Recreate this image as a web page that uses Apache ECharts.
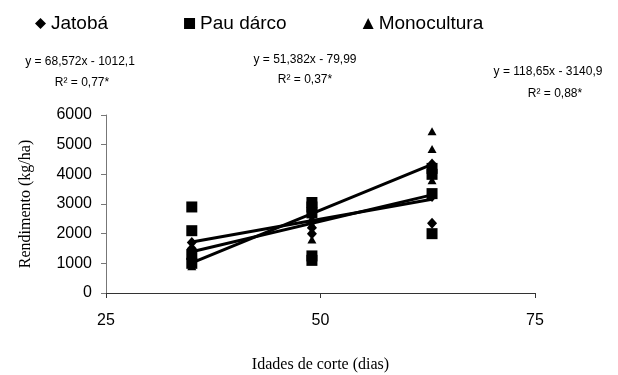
<!DOCTYPE html>
<html>
<head>
<meta charset="utf-8">
<script src="https://cdn.jsdelivr.net/npm/echarts@6/dist/echarts.min.js"></script>
<style>html,body{margin:0;padding:0;background:#fff}#c{width:618px;height:375px}</style>
</head>
<body>
<div id="c"></div>
<script>
// Series names
var seriesNames = ['Jatobá', 'Pau dárco', 'Monocultura'];
// Cutting ages (x) and yields (y)
var jatobaX = [35, 35, 35, 35, 49, 49, 49, 49, 63, 63, 63, 63];
var jatobaY = [1700, 1500, 1300, 1200, 2600, 2400, 2200, 2000, 4350, 3300, 3250, 2350];
var pauX = [35, 35, 35, 35, 49, 49, 49, 49, 49, 63, 63, 63, 63];
var pauY = [2900, 2100, 1300, 1000, 3050, 2900, 2700, 1250, 1100, 4200, 4000, 3350, 2000];
var monoX = [35, 35, 35, 49, 49, 49, 63, 63, 63, 63];
var monoY = [1100, 1000, 900, 2500, 2300, 1800, 5450, 4850, 4300, 3800];
// Regression equations printed on the chart
var slopes = [68.572, 51.382, 118.65];
var intercepts = [-1012.1, -79.99, -3140.9];
var trendRange = [35, 63];
var equations = ['y = 68,572x - 1012,1', 'y = 51,382x - 79,99', 'y = 118,65x - 3140,9'];
var r2Labels = ['R² = 0,77*', 'R² = 0,37*', 'R² = 0,88*'];
// Axis ticks
var xTicks = [25, 50, 75];
var yTicks = [0, 1000, 2000, 3000, 4000, 5000, 6000];

function pairs(xs, ys) { return xs.map(function (x, i) { return [x, ys[i]]; }); }
function trend(k) {
  return trendRange.map(function (x) { return [x, slopes[k] * x + intercepts[k]]; });
}

var symbols = ['diamond', 'rect', 'triangle'];
var symSizes = [[10, 11], [11, 11], [9, 8]];
var pts = [pairs(jatobaX, jatobaY), pairs(pauX, pauY), pairs(monoX, monoY)];

var series = [];
for (var k = 0; k < 3; k++) {
  series.push({
    name: seriesNames[k], type: 'scatter', data: pts[k], symbol: symbols[k],
    symbolSize: symSizes[k], itemStyle: { color: '#000', opacity: 1 }, z: 3
  });
}
for (var k = 0; k < 3; k++) {
  series.push({
    name: 'trend' + k, type: 'line', data: trend(k), showSymbol: false, symbol: 'none',
    lineStyle: { color: '#000', width: 3 }, z: 4, silent: true
  });
}

var eqPos = [[80, 62, 82, 83], [305, 60, 305, 80], [548, 72, 555, 94]];
var graphics = [];
for (var k = 0; k < 3; k++) {
  graphics.push({ type: 'text', x: eqPos[k][0], y: eqPos[k][1], style: { text: equations[k], font: '12px "Liberation Sans", Arial', fill: '#000', align: 'center', verticalAlign: 'middle' } });
  graphics.push({ type: 'text', x: eqPos[k][2], y: eqPos[k][3], style: { text: r2Labels[k], font: '12px "Liberation Sans", Arial', fill: '#000', align: 'center', verticalAlign: 'middle' } });
}

var chart = echarts.init(document.getElementById('c'), null, { renderer: 'canvas' });
chart.setOption({
  animation: false,
  backgroundColor: '#fff',
  legend: {
    data: seriesNames.map(function (n, i) { return { name: n, icon: ['diamond', 'rect', 'triangle'][i], itemStyle: { color: '#000', opacity: 1 } }; }),
    left: 30, top: 9, itemWidth: 11, itemHeight: 11, itemGap: 76,
    textStyle: { fontSize: 19, color: '#000', fontFamily: '"Liberation Sans", Arial' }
  },
  grid: { left: 106, right: 83, top: 115, bottom: 82, containLabel: false },
  xAxis: {
    type: 'value', min: xTicks[0], max: xTicks[xTicks.length - 1], interval: 25,
    name: 'Idades de corte (dias)', nameLocation: 'middle', nameGap: 64,
    nameTextStyle: { fontFamily: '"Liberation Serif", "Times New Roman", serif', fontSize: 16, color: '#000' },
    axisLine: { lineStyle: { color: '#333', width: 1 } },
    axisTick: { show: true, length: 5, lineStyle: { color: '#333' } },
    axisLabel: { fontSize: 16, color: '#000', margin: 20, fontFamily: '"Liberation Sans", Arial' },
    splitLine: { show: false }
  },
  yAxis: {
    type: 'value', min: yTicks[0], max: yTicks[yTicks.length - 1], interval: 1000,
    name: 'Rendimento (kg/ha)', nameLocation: 'middle', nameGap: 72, nameRotate: 90,
    nameTextStyle: { fontFamily: '"Liberation Serif", "Times New Roman", serif', fontSize: 16, color: '#000' },
    axisLine: { show: true, lineStyle: { color: '#777', width: 1 } },
    axisTick: { show: true, length: 5, lineStyle: { color: '#777' } },
    axisLabel: { fontSize: 16, color: '#000', margin: 14, fontFamily: '"Liberation Sans", Arial', formatter: function (v) { return String(v); } },
    splitLine: { show: false }
  },
  graphic: graphics,
  series: series
});
</script>
</body>
</html>
